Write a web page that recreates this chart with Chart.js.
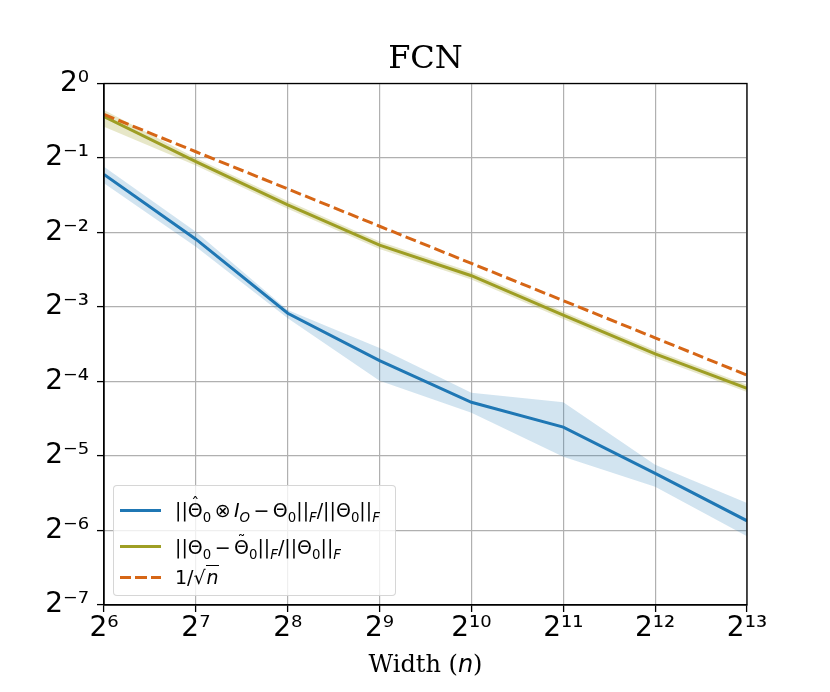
<!DOCTYPE html>
<html>
<head>
<meta charset="utf-8">
<script src="https://cdn.jsdelivr.net/npm/chart.js@4.4.0/dist/chart.umd.min.js"></script>
<style>
  body { margin: 0; background: #fff; }
  #wrap { position: relative; width: 830px; height: 692px; }
  #legend {
    position: absolute; left: 113px; top: 485px; width: 283px; height: 111px;
    box-sizing: border-box; border: 1px solid rgba(204,204,204,0.8); border-radius: 4px;
    background: rgba(255,255,255,0.8);
    font-family: 'DejaVu Sans'; font-size: 19px; color: #000;
  }
  .swatch { position: absolute; left: 6px; width: 41px; height: 3px; }
  .lbl { position: absolute; left: 61px; line-height: 24px; white-space: nowrap; }
  .lbl sub { font-size: 0.7em; line-height: 0; }
  .op { margin: 0 0.18em; }
  .acc { position: relative; display: inline-block; }
  .acc .mk { position: absolute; left: 0; right: 0; text-align: center; top: -0.36em; font-size: 0.85em; }
  .sq { border-top: 1.5px solid #000; padding-left: 1px; }
</style>
</head>
<body>
<div id="wrap">
  <canvas id="fcnChart" width="830" height="692"></canvas>
  <div id="legend">
    <span class="swatch" style="top:22.5px; background:#1f77b4"></span>
    <span class="lbl" style="top:12px">||<span class="acc">Θ<span class="mk">ˆ</span></span><sub>0</sub><span class="op">⊗</span><i>I<sub>O</sub></i><span class="op">−</span>Θ<sub>0</sub>||<sub><i>F</i></sub>/||Θ<sub>0</sub>||<sub><i>F</i></sub></span>
    <span class="swatch" style="top:59.2px; background:#9e9e24"></span>
    <span class="lbl" style="top:48.7px">||Θ<sub>0</sub><span class="op">−</span><span class="acc">Θ<span class="mk">˜</span></span><sub>0</sub>||<sub><i>F</i></sub>/||Θ<sub>0</sub>||<sub><i>F</i></sub></span>
    <span class="swatch" style="top:89.5px; background:repeating-linear-gradient(to right, #d66616 0 11px, transparent 11px 15.5px)"></span>
    <span class="lbl" style="top:78.8px">1/√<span class="sq"><i>n</i></span></span>
  </div>
</div>
<script>
// widths n = 2^6 .. 2^13
const widths = [64, 128, 256, 512, 1024, 2048, 4096, 8192];

// ||Theta_hat (x) I_O - Theta||_F / ||Theta||_F  (mean and band)
const kronMean  = [0.4293, 0.2349, 0.1179, 0.0759, 0.0515, 0.0409, 0.0266, 0.0171];
const kronUpper = [0.4611, 0.2517, 0.1216, 0.0854, 0.0563, 0.0515, 0.0288, 0.0202];
const kronLower = [0.3950, 0.2192, 0.1127, 0.0629, 0.0467, 0.0310, 0.0235, 0.0148];

// ||Theta - Theta_tilde||_F / ||Theta||_F  (mean and band)
const svdMean  = [0.7347, 0.4830, 0.3231, 0.2222, 0.1672, 0.1158, 0.0808, 0.0587];
const svdUpper = [0.7813, 0.5000, 0.3350, 0.2300, 0.1730, 0.1198, 0.0836, 0.0607];
const svdLower = [0.6690, 0.4660, 0.3120, 0.2145, 0.1615, 0.1118, 0.0780, 0.0567];

// 1/sqrt(n) reference (scaled)
const invSqrt = [0.75, 0.530, 0.375, 0.265, 0.1875, 0.1326, 0.0938, 0.0663];

const xTickLabels = ['2⁶', '2⁷', '2⁸', '2⁹', '2¹⁰', '2¹¹', '2¹²', '2¹³'];
const yTicks = [0.0078125, 0.015625, 0.03125, 0.0625, 0.125, 0.25, 0.5, 1];
const yTickLabels = ['2⁻⁷', '2⁻⁶', '2⁻⁵', '2⁻⁴', '2⁻³', '2⁻²', '2⁻¹', '2⁰'];

const pts = arr => arr.map((v, i) => ({ x: widths[i], y: v }));

const blue = '#1f77b4';
const olive = '#9e9e24';
const orange = '#d66616';

const tickFont = { family: 'DejaVu Sans', size: 28 };
const gridOpts = { color: '#b0b0b0', lineWidth: 1.2, tickColor: '#000', tickLength: 7, tickWidth: 1.3 };

// x label with italic n, plus the top/right spines
const framePlugin = {
  id: 'frame',
  afterDatasetsDraw(chart) {
    const { ctx, chartArea: a } = chart;
    ctx.save();
    ctx.strokeStyle = '#000';
    ctx.lineWidth = 1.3;
    ctx.strokeRect(a.left, a.top, a.right - a.left, a.bottom - a.top);
    ctx.restore();
  },
  afterDraw(chart) {
    const { ctx, chartArea: a } = chart;
    const parts = [['Width (', '24px "DejaVu Serif"'], ['n', 'italic 24px "DejaVu Sans"'], [')', '24px "DejaVu Serif"']];
    ctx.save();
    ctx.fillStyle = '#000';
    ctx.textBaseline = 'alphabetic';
    let total = 0;
    parts.forEach(p => { ctx.font = p[1]; total += ctx.measureText(p[0]).width; });
    let x = (a.left + a.right) / 2 - total / 2;
    parts.forEach(p => {
      ctx.font = p[1];
      ctx.fillText(p[0], x, 672);
      x += ctx.measureText(p[0]).width;
    });
    ctx.restore();
  }
};

const ctx = document.getElementById('fcnChart').getContext('2d');

new Chart(ctx, {
  type: 'line',
  data: {
    datasets: [
      { data: pts(kronLower), borderWidth: 0, pointRadius: 0, fill: false, order: 4 },
      { data: pts(kronUpper), borderWidth: 0, pointRadius: 0, fill: '-1', backgroundColor: 'rgba(31,119,180,0.2)', order: 4 },
      { data: pts(kronMean), borderColor: blue, borderWidth: 3, pointRadius: 0, fill: false, order: 3 },
      { data: pts(svdLower), borderWidth: 0, pointRadius: 0, fill: false, order: 2 },
      { data: pts(svdUpper), borderWidth: 0, pointRadius: 0, fill: '-1', backgroundColor: 'rgba(158,158,36,0.25)', order: 2 },
      { data: pts(svdMean), borderColor: olive, borderWidth: 3, pointRadius: 0, fill: false, order: 1 },
      { data: pts(invSqrt), borderColor: orange, borderWidth: 3, borderDash: [11, 4.5], pointRadius: 0, fill: false, order: 0 }
    ]
  },
  options: {
    responsive: false,
    animation: false,
    layout: { padding: { left: 0, right: 83, top: 0, bottom: 0 } },
    elements: { line: { tension: 0, borderCapStyle: 'butt' } },
    scales: {
      x: {
        type: 'logarithmic',
        min: 64,
        max: 8192,
        afterBuildTicks: s => { s.ticks = widths.map(v => ({ value: v })); },
        afterFit: s => { s.height = 87; },
        grid: gridOpts,
        border: { color: '#000', width: 1.3 },
        ticks: {
          font: tickFont, color: '#000', padding: 0, maxRotation: 0, autoSkip: false,
          callback: v => xTickLabels[widths.indexOf(v)]
        }
      },
      y: {
        type: 'logarithmic',
        min: 0.0078125,
        max: 1,
        afterBuildTicks: s => { s.ticks = yTicks.map(v => ({ value: v })); },
        afterFit: s => { s.width = 104; },
        grid: gridOpts,
        border: { color: '#000', width: 1.3 },
        ticks: {
          font: tickFont, color: '#000', padding: 8, autoSkip: false,
          callback: v => yTickLabels[yTicks.indexOf(v)]
        }
      }
    },
    plugins: {
      legend: { display: false },
      tooltip: { enabled: false },
      title: {
        display: true,
        fullSize: false,
        text: 'FCN',
        color: '#000',
        font: { family: 'DejaVu Serif', size: 32, weight: 'normal' },
        padding: { top: 40.5, bottom: 4.6 }
      }
    }
  },
  plugins: [framePlugin]
});
</script>
</body>
</html>
